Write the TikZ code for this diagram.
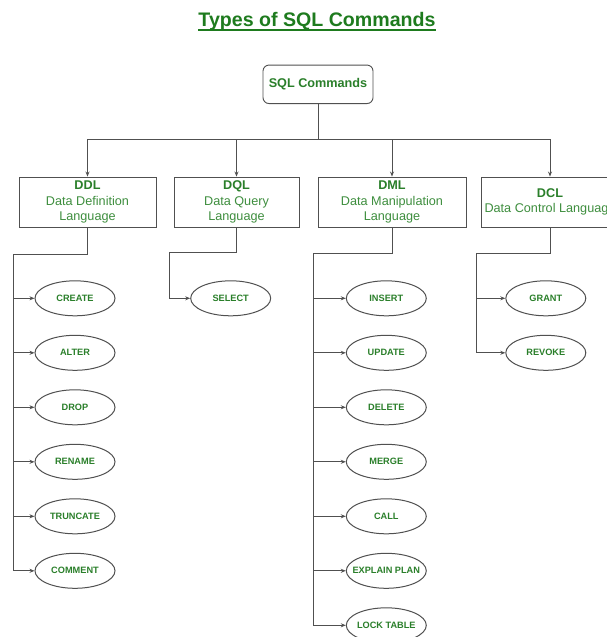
\documentclass[tikz,border=0pt]{standalone}
\usepackage{fontspec}
\setmainfont{Liberation Sans}
\usetikzlibrary{shapes.geometric,arrows.meta}
\definecolor{titlegreen}{HTML}{1E7B1E}
\definecolor{boldgreen}{HTML}{2A7F2A}
\definecolor{txtgreen}{HTML}{3E8E3E}
\definecolor{linegray}{HTML}{505050}
\newcommand\cmdlabel[1]{\makebox[0pt][c]{#1}}
\begin{document}
\begin{tikzpicture}[x=1pt,y=-1pt,
  conn/.style={draw=linegray, line width=0.9pt},
  arr/.style={conn, -{Stealth[length=5pt,width=4pt]}},
  catbox/.style={draw=linegray, line width=0.9pt, rectangle, minimum height=50pt,
    inner sep=0pt, align=center, font=\fontsize{12.66}{15.3}\selectfont, text=txtgreen},
  cmd/.style={draw=linegray, line width=1pt, ellipse, minimum width=80pt,
    minimum height=35pt, inner sep=0pt, font=\fontsize{9.2}{11}\selectfont\bfseries, text=boldgreen}
]
\clip (0,0) rectangle (607,637);
\fill[white] (0,0) rectangle (607,637);

% title
\node[inner sep=0pt, anchor=base, font=\fontsize{19.6}{22}\selectfont\bfseries, text=titlegreen]
  (title) at (317,27) {Types of SQL Commands};
\draw[titlegreen, line width=1.5pt] ([yshift=-3pt]title.base west) -- ([yshift=-3pt]title.base east);

% root
\node[draw=linegray, line width=0.9pt, rounded corners=6pt, minimum width=110pt,
  minimum height=38.5pt, inner sep=0pt, font=\fontsize{12.66}{15}\selectfont\bfseries,
  text=boldgreen] (sql) at (318,84.3) {SQL Commands};

% categories
\node[catbox, minimum width=137pt] (ddl) at (87.5,202)
  {{\bfseries\color{boldgreen}DDL}\\Data Definition\\Language};
\node[catbox, minimum width=125pt] (dql) at (236.5,202)
  {{\bfseries\color{boldgreen}DQL}\\Data Query\\Language};
\node[catbox, minimum width=148pt] (dml) at (392,202)
  {{\bfseries\color{boldgreen}DML}\\Data Manipulation\\Language};
\node[catbox, minimum width=137pt] (dcl) at (550,202)
  {{\bfseries\color{boldgreen}DCL}\\Data Control Language};

\coordinate (bus) at (318,139);
\draw[conn] (sql.south) -- (bus);
\draw[arr] (bus) -| (ddl.north);
\draw[arr] (bus) -| (dql.north);
\draw[arr] (bus) -| (dml.north);
\draw[arr] (bus) -| (dcl.north);

% DDL commands
\node[cmd] (create)   at (75,298.3) {\cmdlabel{CREATE}};
\node[cmd] (alter)    at (75,352.8) {\cmdlabel{ALTER}};
\node[cmd] (drop)     at (75,407.3) {\cmdlabel{DROP}};
\node[cmd] (rename)   at (75,461.8) {\cmdlabel{RENAME}};
\node[cmd] (truncate) at (75,516.3) {\cmdlabel{TRUNCATE}};
\node[cmd] (comment)  at (75,570.8) {\cmdlabel{COMMENT}};
\coordinate (ddlturn) at (13.5,254);
\draw[conn] (ddl.south) |- (ddlturn);
\foreach \n in {create,alter,drop,rename,truncate,comment}
  \draw[arr] (ddlturn) |- (\n.west);

% DQL commands
\node[cmd] (select) at (230.7,298.3) {\cmdlabel{SELECT}};
\coordinate (dqlturn) at (169,252.5);
\draw[conn] (dql.south) |- (dqlturn);
\draw[arr] (dqlturn) |- (select.west);

% DML commands
\node[cmd] (insert)  at (386.3,298.3) {\cmdlabel{INSERT}};
\node[cmd] (update)  at (386.3,352.8) {\cmdlabel{UPDATE}};
\node[cmd] (delete)  at (386.3,407.3) {\cmdlabel{DELETE}};
\node[cmd] (merge)   at (386.3,461.8) {\cmdlabel{MERGE}};
\node[cmd] (call)    at (386.3,516.3) {\cmdlabel{CALL}};
\node[cmd] (explain) at (386.3,570.8) {\cmdlabel{EXPLAIN PLAN}};
\node[cmd] (lock)    at (386.3,625.3) {\cmdlabel{LOCK TABLE}};
\coordinate (dmlturn) at (313.3,253);
\draw[conn] (dml.south) |- (dmlturn);
\foreach \n in {insert,update,delete,merge,call,explain,lock}
  \draw[arr] (dmlturn) |- (\n.west);

% DCL commands
\node[cmd] (grant)  at (545.8,298.3) {\cmdlabel{GRANT}};
\node[cmd] (revoke) at (545.8,352.8) {\cmdlabel{REVOKE}};
\coordinate (dclturn) at (476,253);
\draw[conn] (dcl.south) |- (dclturn);
\draw[arr] (dclturn) |- (grant.west);
\draw[arr] (dclturn) |- (revoke.west);
\end{tikzpicture}
\end{document}
